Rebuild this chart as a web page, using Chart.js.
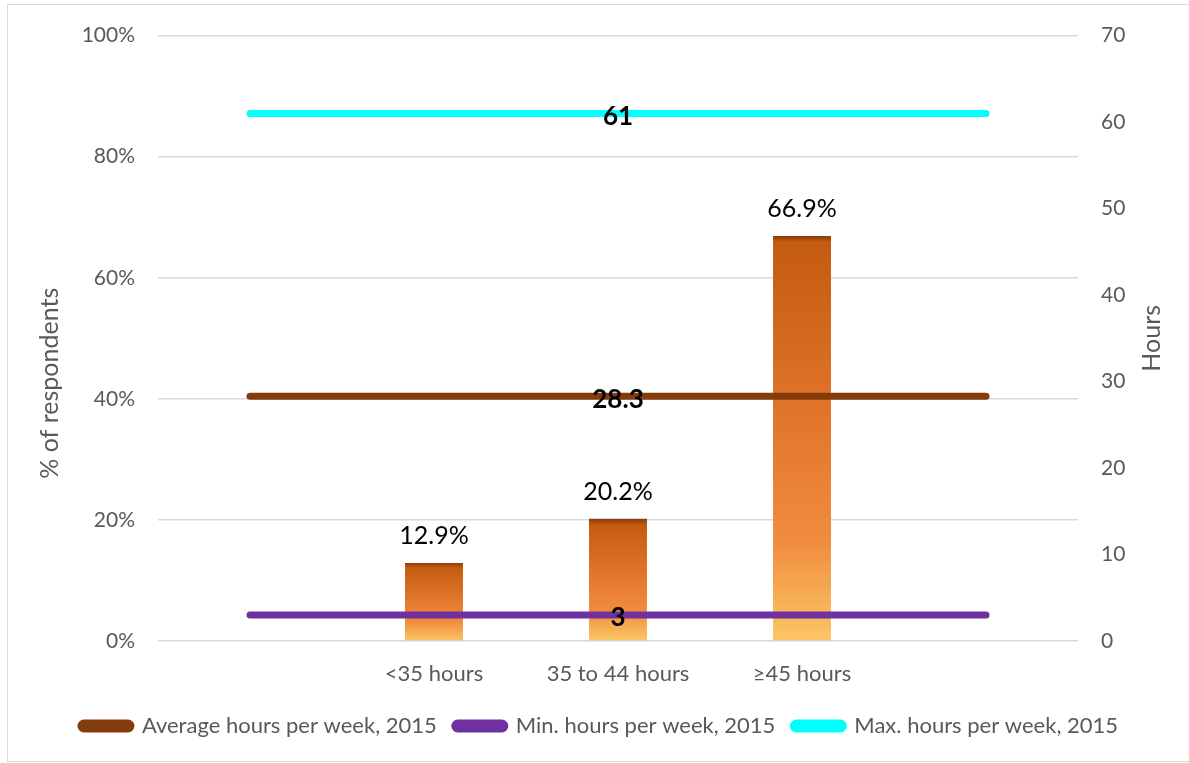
<!DOCTYPE html>
<html>
<head>
<meta charset="utf-8">
<script src="https://cdn.jsdelivr.net/npm/chart.js@4"></script>
<style>
  html, body { margin: 0; padding: 0; background: #fff; }
  #wrap { position: relative; width: 1189px; height: 763px; }
</style>
</head>
<body>
<div id="wrap"><canvas id="c" width="1189" height="763"></canvas></div>
<script>
// Category slots: empty slots at both ends let the reference lines run past the bars
const categories = ['', '<35 hours', '35 to 44 hours', '\u226545 hours', ''];
const sharePct = [null, 12.9, 20.2, 66.9, null];
const avgHours = [28.3, 28.3, 28.3, 28.3, 28.3];
const minHours = [3, 3, 3, 3, 3];
const maxHours = [61, 61, 61, 61, 61];
const pctTicks = [0, 20, 40, 60, 80, 100];
const hourTicks = [0, 10, 20, 30, 40, 50, 60, 70];
const leftTitle = '% of respondents';
const rightTitle = 'Hours';
const lineLabelIndex = 2;

const FONT = 'Lato, "Open Sans", sans-serif';
const GREY = '#595959';

function barFill(context) {
  const chart = context.chart;
  const v = context.raw;
  if (!chart.chartArea || v == null) return '#ED7D31';
  const y = chart.scales.y;
  const top = y.getPixelForValue(v);
  const base = y.getPixelForValue(0);
  const g = chart.ctx.createLinearGradient(0, top, 0, base);
  g.addColorStop(0, '#843C0C');
  g.addColorStop(Math.min(0.06, 6 / (base - top)), '#C55A11');
  g.addColorStop(0.45, '#E2752C');
  g.addColorStop(0.75, '#F08C3E');
  g.addColorStop(1, '#FBC665');
  return g;
}

const frame = {
  id: 'frame',
  beforeDraw(chart) {
    const ctx = chart.ctx;
    ctx.save();
    ctx.fillStyle = '#fff';
    ctx.fillRect(0, 0, chart.width, chart.height);
    ctx.strokeStyle = '#D9D9D9';
    ctx.lineWidth = 1;
    ctx.strokeRect(7.5, 4.5, chart.width, chart.height - 6);
    ctx.restore();
  }
};

function verticalText(ctx, text, x, y) {
  ctx.save();
  ctx.translate(x, y);
  ctx.rotate(-Math.PI / 2);
  ctx.font = '25px ' + FONT;
  ctx.fillStyle = GREY;
  ctx.textAlign = 'center';
  ctx.textBaseline = 'middle';
  ctx.fillText(text, 0, 0);
  ctx.restore();
}

const valueLabels = {
  id: 'valueLabels',
  afterDatasetsDraw(chart) {
    const ctx = chart.ctx;
    ctx.save();
    ctx.textAlign = 'center';
    ctx.textBaseline = 'middle';
    // percentage above each bar
    const barMeta = chart.getDatasetMeta(0);
    ctx.font = '25px ' + FONT;
    ctx.fillStyle = '#000';
    barMeta.data.forEach((el, i) => {
      const v = sharePct[i];
      if (v == null) return;
      ctx.fillText(v.toFixed(1) + '%', el.x, el.y - 27);
    });
    // hour value on each line, in the middle slot
    ctx.font = 'bold 26px ' + FONT;
    [1, 2, 3].forEach(di => {
      const meta = chart.getDatasetMeta(di);
      const pt = meta.data[lineLabelIndex];
      const v = chart.data.datasets[di].data[lineLabelIndex];
      ctx.fillText(String(v), pt.x, pt.y + 3);
    });
    ctx.restore();
  },
  afterDraw(chart) {
    // axis titles, both reading bottom to top
    const area = chart.chartArea;
    const mid = (area.top + area.bottom) / 2;
    verticalText(chart.ctx, leftTitle, 50, mid + 45);
    verticalText(chart.ctx, rightTitle, 1152, mid);
  }
};

const lineStyle = (label, data, color) => ({
  type: 'line',
  label: label,
  data: data,
  yAxisID: 'y2',
  borderColor: color,
  backgroundColor: color,
  borderWidth: 7,
  borderCapStyle: 'round',
  pointRadius: 0,
  pointHoverRadius: 0,
  fill: false,
  order: 0
});

new Chart(document.getElementById('c'), {
  data: {
    labels: categories,
    datasets: [
      {
        type: 'bar',
        label: '% of respondents',
        data: sharePct,
        yAxisID: 'y',
        backgroundColor: barFill,
        barPercentage: 0.63,
        categoryPercentage: 0.5,
        order: 1
      },
      lineStyle('Average hours per week, 2015', avgHours, '#843C0C'),
      lineStyle('Min. hours per week, 2015', minHours, '#7030A0'),
      lineStyle('Max. hours per week, 2015', maxHours, '#00FFFF')
    ]
  },
  options: {
    responsive: false,
    animation: false,
    layout: { padding: { left: 36, right: 26, top: 33, bottom: 16 } },
    plugins: {
      tooltip: { enabled: false },
      legend: {
        position: 'bottom',
        labels: {
          filter: item => item.datasetIndex > 0,
          font: { family: FONT, size: 22 },
          color: GREY,
          boxWidth: 50,
          boxHeight: 6,
          useBorderRadius: true,
          borderRadius: 3,
          padding: 18
        }
      }
    },
    scales: {
      x: {
        grid: { display: false },
        border: { display: false },
        ticks: { font: { family: FONT, size: 22 }, color: GREY, padding: 12, maxRotation: 0 },
        afterFit: s => { s.height = 56; }
      },
      y: {
        position: 'left',
        min: 0,
        max: 100,
        afterBuildTicks: s => { s.ticks = pctTicks.map(v => ({ value: v })); },
        ticks: {
          font: { family: FONT, size: 21 },
          color: GREY,
          padding: 23,
          callback: v => v + '%'
        },
        grid: { color: '#D9D9D9', lineWidth: 1.5, drawTicks: false },
        border: { display: false },
        afterFit: s => { s.width = 158 - 36; }
      },
      y2: {
        position: 'right',
        min: 0,
        max: 70,
        afterBuildTicks: s => { s.ticks = hourTicks.map(v => ({ value: v })); },
        ticks: { font: { family: FONT, size: 21 }, color: GREY, padding: 23 },
        grid: { display: false, drawTicks: false },
        border: { display: false },
        afterFit: s => { s.width = 1163 - 1078; }
      }
    }
  },
  plugins: [frame, valueLabels]
});
</script>
</body>
</html>
